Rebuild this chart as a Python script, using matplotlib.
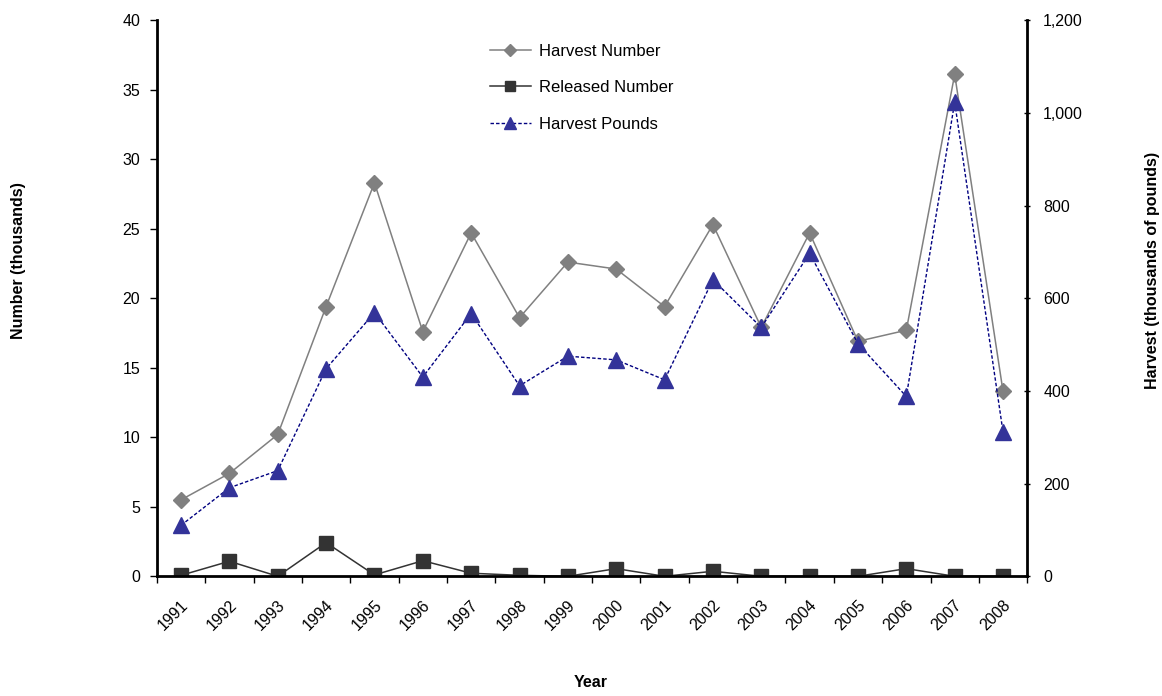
import matplotlib.pyplot as plt
from matplotlib.ticker import FuncFormatter, FixedLocator
import numpy as np

plt.rcParams['font.family'] = ['Liberation Sans', 'DejaVu Sans']

years = ['1991', '1992', '1993', '1994', '1995', '1996', '1997', '1998', '1999',
         '2000', '2001', '2002', '2003', '2004', '2005', '2006', '2007', '2008']
# thousands of fish
harvest_number = [5.5, 7.4, 10.2, 19.4, 28.3, 17.6, 24.7, 18.6, 22.6,
                  22.1, 19.4, 25.3, 17.9, 24.7, 16.9, 17.7, 36.1, 13.3]
released_number = [0.07, 1.08, 0.0, 2.42, 0.1, 1.12, 0.22, 0.07, 0.0,
                   0.55, 0.0, 0.36, 0.0, 0.0, 0.0, 0.55, 0.0, 0.0]
# thousands of pounds
harvest_pounds = [110, 191, 228, 448, 569, 430, 567, 411, 475,
                  467, 424, 640, 537, 697, 502, 388, 1023, 311]

x = np.arange(len(years))

fig = plt.figure(figsize=(11.62, 6.96), dpi=100)
ax = fig.add_axes([0.135, 0.172, 0.749, 0.799])
ax2 = ax.twinx()

l1, = ax.plot(x, harvest_number, '-', color='#808080', lw=1.1, marker='D',
              ms=8, mfc='#808080', mec='#808080', label='Harvest Number')
l2, = ax.plot(x, released_number, '-', color='#333333', lw=1.1, marker='s',
              ms=10.5, mfc='#333333', mec='#333333', label='Released Number')
l3, = ax2.plot(x, harvest_pounds, '--', color='#000080', lw=1.0, dashes=(2.5, 1.5),
               marker='^', ms=11, mfc='#333399', mec='#333399', label='Harvest Pounds')

ax.set_xlim(-0.5, len(years) - 0.5)
ax.set_ylim(0, 40)
ax2.set_ylim(0, 1200)
ax.set_yticks(np.arange(0, 41, 5))
ax2.set_yticks(np.arange(0, 1201, 200))
ax2.yaxis.set_major_formatter(FuncFormatter(lambda v, p: '{:,.0f}'.format(v)))

# category ticks between years, labels at centres
ax.xaxis.set_major_locator(FixedLocator(np.arange(-0.5, len(years), 1.0)))
ax.set_xticklabels([])
ax.xaxis.set_minor_locator(FixedLocator(x + 0.1))
ax.set_xticklabels(years, minor=True, rotation=45, ha='right', va='center',
                   rotation_mode='anchor')
ax.tick_params(axis='x', which='minor', length=0, pad=19, labelsize=11.5)
ax.tick_params(axis='x', which='major', length=5, width=1, direction='out')
ax.tick_params(axis='y', length=5, width=1, direction='out', labelsize=11.5, pad=7)
ax2.tick_params(axis='y', length=5, width=1, direction='inout', labelsize=11.5, pad=9)

for a in (ax, ax2):
    a.spines['top'].set_visible(False)
    a.spines['left'].set_linewidth(2)
    a.spines['right'].set_linewidth(2)
    a.spines['bottom'].set_linewidth(2)
ax2.spines['bottom'].set_visible(False)
ax.spines['right'].set_visible(False)
ax2.spines['left'].set_visible(False)

fig.text(0.508, 0.008, 'Year', ha='center', va='bottom', fontsize=11.5, fontweight='bold')
fig.text(0.016, 0.626, 'Number (thousands)', ha='center', va='center',
         rotation=90, fontsize=11.5, fontweight='bold')
fig.text(0.992, 0.612, 'Harvest (thousands of pounds)', ha='center', va='center',
         rotation=90, fontsize=11.5, fontweight='bold')

ax.legend(handles=[l1, l2, l3], loc='upper left', bbox_to_anchor=(0.365, 0.985),
          frameon=False, fontsize=12, labelspacing=1.3, handlelength=2.5,
          handletextpad=0.45, markerscale=0.75)

fig.savefig('out.png', dpi=100)
